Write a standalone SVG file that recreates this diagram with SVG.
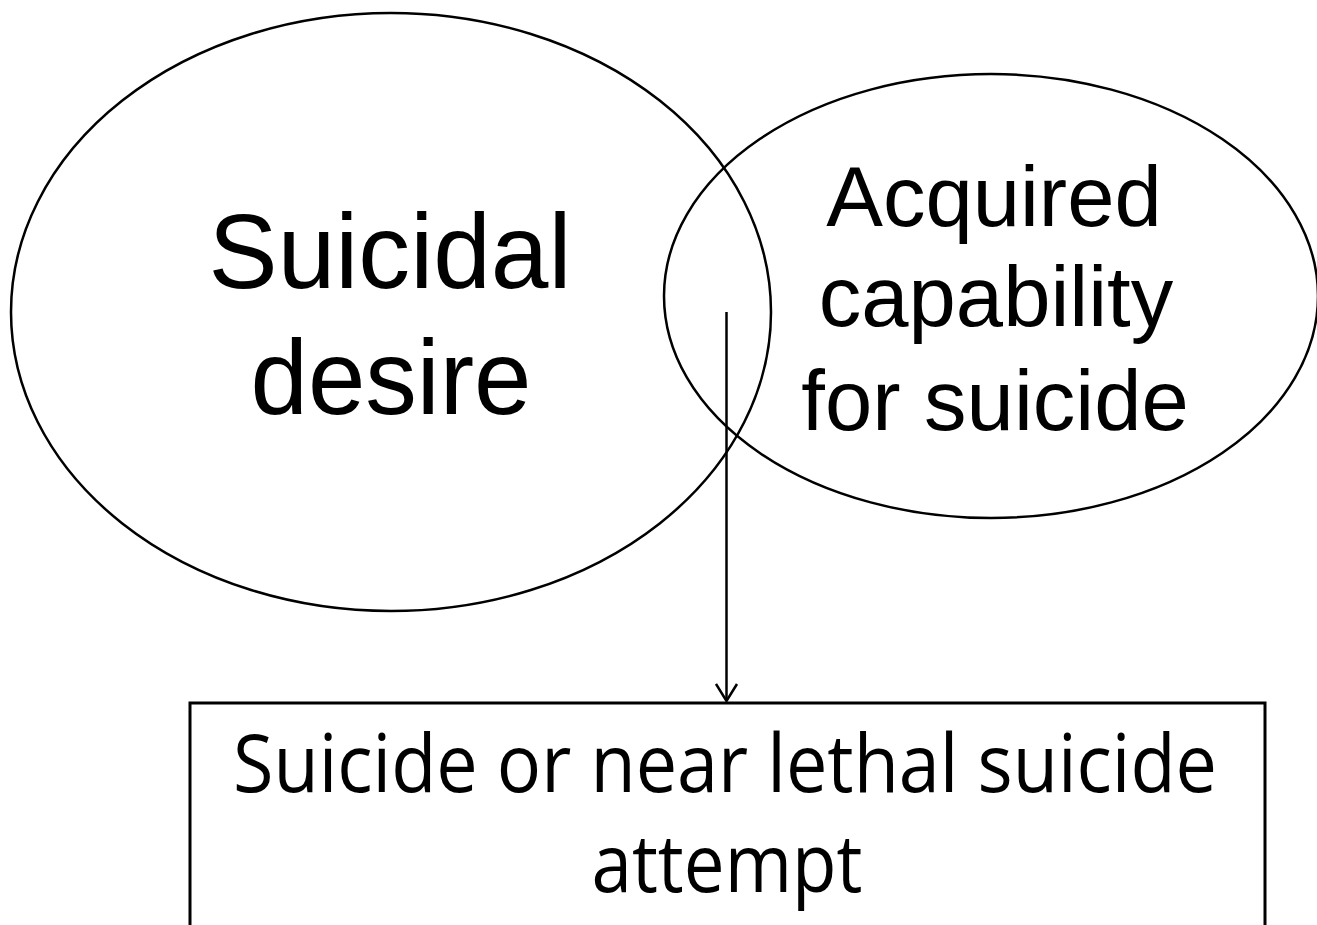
<svg xmlns="http://www.w3.org/2000/svg" width="1317" height="925" viewBox="0 0 1317 925">
<style>
.shape{fill:none;stroke:#000;stroke-width:2.5}
.lbl{font-family:"Liberation Sans",Arial,sans-serif;fill:#000;text-anchor:middle}
.box{font-family:"Open Sans","Noto Sans",sans-serif;fill:#000;text-anchor:middle;font-size:80px}
</style>
<defs>
<marker id="arr" viewBox="0 0 20 24" refX="18" refY="12" markerWidth="20" markerHeight="24" markerUnits="userSpaceOnUse" orient="auto">
<polyline points="1,1.5 18,12 1,22.5" fill="none" stroke="#000" stroke-width="2.5"/>
</marker>
</defs>
<rect width="1317" height="925" fill="#fff"/>
<g id="node-desire">
<ellipse class="shape" cx="391" cy="312" rx="380" ry="299"/>
<text class="lbl" font-size="106" x="390" y="288" textLength="363" lengthAdjust="spacingAndGlyphs">Suicidal</text>
<text class="lbl" font-size="106" x="391" y="414" textLength="281" lengthAdjust="spacingAndGlyphs">desire</text>
</g>
<g id="node-capability">
<ellipse class="shape" cx="991" cy="296" rx="327" ry="222"/>
<text class="lbl" font-size="85" x="994" y="226">Acquired</text>
<text class="lbl" font-size="85" x="996" y="326">capability</text>
<text class="lbl" font-size="85" x="995" y="430">for suicide</text>
</g>
<g id="node-outcome">
<rect x="190" y="703" width="1075" height="300" fill="none" stroke="#000" stroke-width="3"/>
<text class="box" x="725" y="792" textLength="984" lengthAdjust="spacingAndGlyphs">Suicide or near lethal suicide</text>
<text class="box" x="727" y="892" textLength="271" lengthAdjust="spacingAndGlyphs">attempt</text>
</g>
<g id="connectors">
<line x1="726.5" y1="312" x2="726.5" y2="701" stroke="#000" stroke-width="2.5" marker-end="url(#arr)"/>
</g>
</svg>
